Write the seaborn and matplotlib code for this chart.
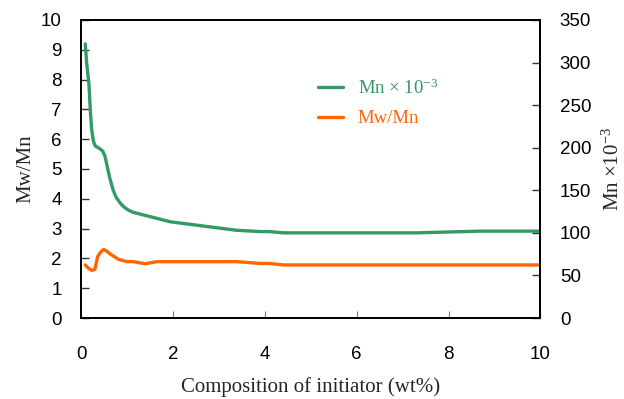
import matplotlib
matplotlib.use("Agg")
import matplotlib.pyplot as plt
import seaborn as sns
import pandas as pd

# Mn x 10^-3 (right axis)
mn_x = [0.09, 0.12, 0.17, 0.20, 0.23, 0.27, 0.31, 0.40, 0.47, 0.52, 0.58, 0.63, 0.70, 0.76, 0.85, 0.92, 1.02,
        1.14, 1.43, 1.94, 2.66, 3.39, 3.90, 4.10, 4.40, 5.5, 7.3, 8.0, 8.7, 10.0]
mn_y = [322, 300, 275, 244, 221, 207, 202, 199, 196, 190, 175, 163, 150, 142, 135, 131, 127,
        124, 120, 113, 108, 103, 101.5, 101.5, 100, 100, 100, 101, 102, 102]

# Mw/Mn (left axis)
pd_x = [0.09, 0.15, 0.23, 0.30, 0.36, 0.43, 0.49, 0.56, 0.63, 0.81, 1.00, 1.14, 1.39, 1.65, 2.5, 3.39, 3.90, 4.10, 4.40, 10.0]
pd_y = [1.78, 1.68, 1.60, 1.63, 2.06, 2.22, 2.30, 2.24, 2.15, 1.97, 1.89, 1.89, 1.82, 1.89, 1.89, 1.89, 1.83, 1.83, 1.78, 1.78]

green = "#339966"
orange = "#FF6600"

sns.set_theme(style="ticks")
plt.rcParams["font.family"] = ["Liberation Sans", "DejaVu Sans"]
plt.rcParams["mathtext.fontset"] = "custom"
plt.rcParams["mathtext.rm"] = "Liberation Serif"
plt.rcParams["mathtext.it"] = "Liberation Serif:italic"
plt.rcParams["mathtext.default"] = "rm"

fig = plt.figure(figsize=(6.24, 3.99), dpi=100)
ax = fig.add_axes([0.130, 0.203, 0.736, 0.747])
ax2 = ax.twinx()

sns.lineplot(x=pd_x, y=pd_y, ax=ax, color=orange, lw=2.4, label="Mw/Mn", legend=False)
sns.lineplot(x=mn_x, y=mn_y, ax=ax2, color=green, lw=2.4, label="Mn × 10$^{-3}$", legend=False)

ax.set_xlim(0, 10)
ax.set_ylim(0, 10)
ax2.set_ylim(0, 350)
ax.set_xticks([0, 2, 4, 6, 8, 10])
ax.set_yticks(range(0, 11))
ax2.set_yticks(range(0, 351, 50))

for a in (ax, ax2):
    a.tick_params(direction="in", length=6, width=1, labelsize=13.5, color="#333333", labelcolor="black")
    for s in a.spines.values():
        s.set_linewidth(1.3)
        s.set_color("black")
        s.set_visible(True)
ax.tick_params(axis="x", pad=20, length=5, width=0.8, color="#777777")
ax.tick_params(axis="y", pad=14)
ax2.tick_params(axis="y", pad=14)

serif = ["Liberation Serif", "DejaVu Serif"]
ax.set_xlabel("Composition of initiator (wt%)", fontsize=15, family=serif, labelpad=10)
ax.set_ylabel("Mw/Mn", fontsize=15, family=serif, labelpad=4)
ax2.set_ylabel("Mn ×10$^{-3}$", fontsize=15, family=serif, labelpad=8)

# legend with colored text
h2, l2 = ax2.get_legend_handles_labels()
h1, l1 = ax.get_legend_handles_labels()
leg = ax2.legend(h2 + h1, l2 + l1, loc="upper left", bbox_to_anchor=(0.48, 0.86), frameon=False,
                 prop={"family": serif, "size": 13.5}, handlelength=1.3, handletextpad=0.8,
                 labelspacing=0.65)
for t, c in zip(leg.get_texts(), [green, orange]):
    t.set_color(c)

fig.savefig("out.png", dpi=100)
